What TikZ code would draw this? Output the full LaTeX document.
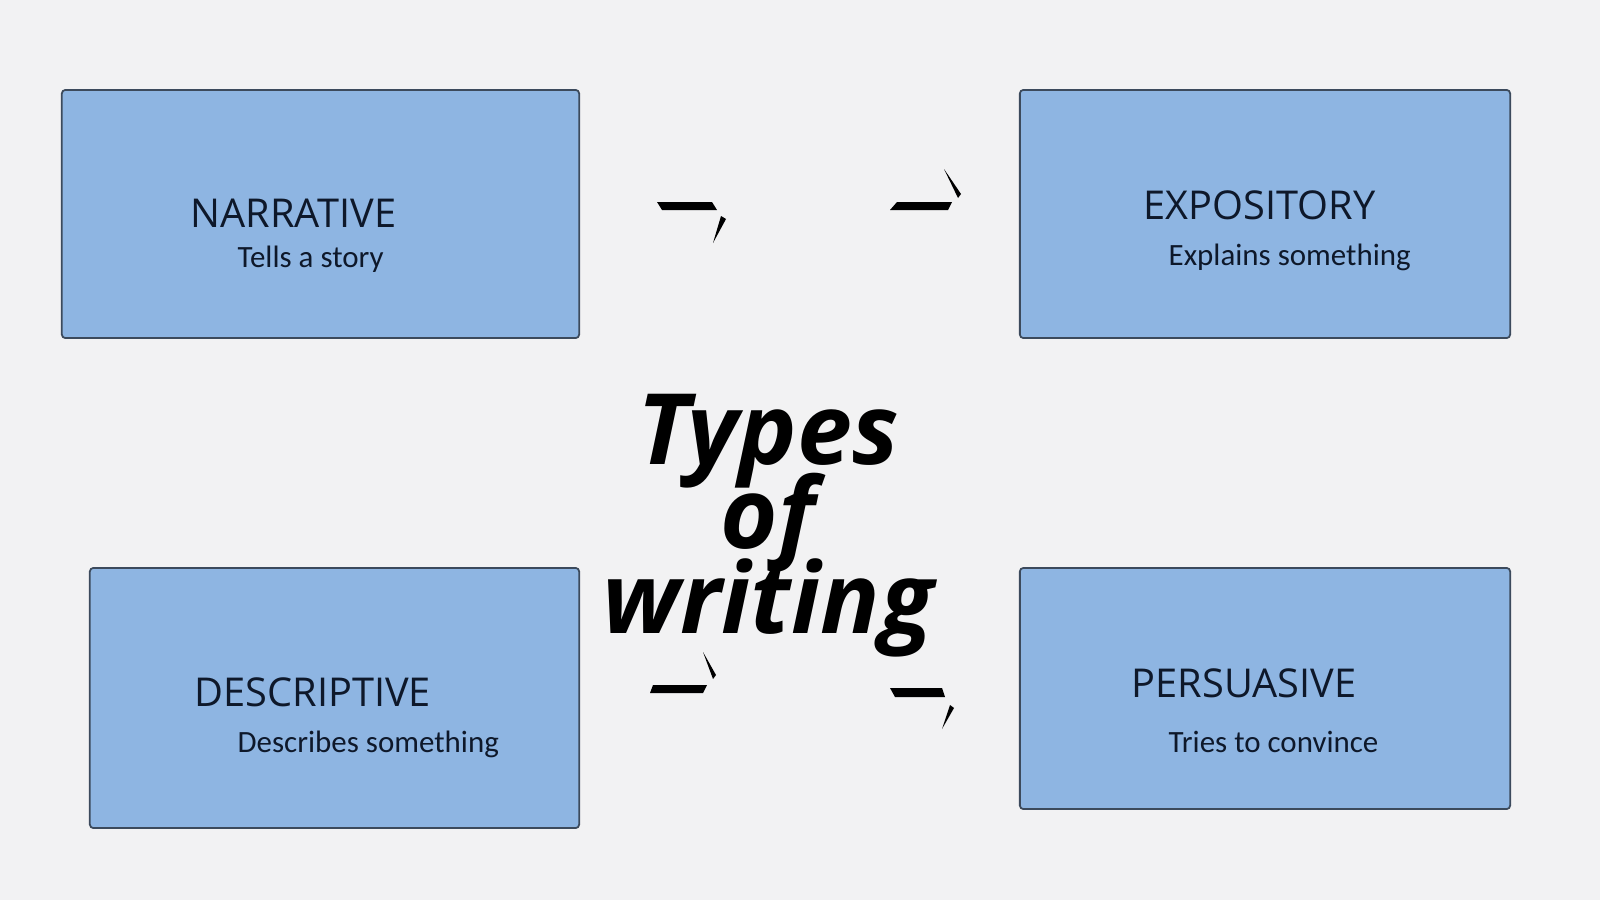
\documentclass[tikz,border=0pt]{standalone}
\usepackage{fontspec}
\usepackage{tikz}
\usetikzlibrary{positioning}
\newfontfamily\headfont{Open Sans}
\newfontfamily\subfont{Carlito}
\newcommand\titlefont{\headfont\bfseries\itshape\fontsize{28}{24}\selectfont\lineskiplimit=-40pt\relax}
\definecolor{boxblue}{RGB}{142,181,226}
\definecolor{boxline}{RGB}{60,74,92}
\definecolor{pagebg}{RGB}{242,242,243}
\definecolor{inkblue}{RGB}{14,24,42}

\begin{document}
\begin{tikzpicture}[
  x=0.01cm, y=-0.01cm,
  box/.style={draw=boxline, fill=boxblue, line width=0.5pt, rounded corners=1pt, rectangle, inner sep=0pt},
  head/.style={anchor=base west, inner sep=0pt, text=inkblue, font=\headfont\fontsize{11.3}{13}\selectfont},
  sub/.style={anchor=base west, inner sep=0pt, text=inkblue, font=\subfont\fontsize{8.8}{11}\selectfont},
  piece/.style={fill=black, draw=none}
]

% Page
\fill[pagebg] (0,0) rectangle (1600,900);
\useasboundingbox (0,0) rectangle (1600,900);

% Boxes
\node[box, minimum width=5.17cm, minimum height=2.48cm] (narrative) at (320.5,214) {};
\node[box, minimum width=4.90cm, minimum height=2.48cm] (expository) at (1265,214) {};
\node[box, minimum width=4.89cm, minimum height=2.60cm] (descriptive) at (334.5,698) {};
\node[box, minimum width=4.90cm, minimum height=2.41cm] (persuasive) at (1265,688.5) {};

% Labels
\node[head] (narrhead) at (190,227) {NARRATIVE};
\node[sub] (narrsub) at (237,267) {Tells a story};
\node[head] (expohead) at (1143,219) {EXPOSITORY};
\node[sub] (exposub) at (1168,265) {Explains something};
\node[head] (deschead) at (194,706) {DESCRIPTIVE};
\node[sub] (descsub) at (237,752) {Describes something};
\node[head] (pershead) at (1131,697) {PERSUASIVE};
\node[sub] (perssub) at (1168,752) {Tries to convince};

% Title (base = last line)
\node[anchor=base, align=center, inner sep=0pt, font=\titlefont] (title) at (768,633)
  {Types\\of\\writing};

% Arrow pieces
\fill[piece] (657,202) -- (712,202) -- (717,210) -- (662,210) -- cycle;
\fill[piece] (721,216) -- (726,219) -- (713,243) -- cycle;

\fill[piece] (897,202) -- (952,202) -- (948,210) -- (890,210) -- cycle;
\fill[piece] (944,169) -- (961,194) -- (958,198) -- cycle;

\fill[piece] (653,685) -- (707,685) -- (703,693) -- (650,693) -- cycle;
\fill[piece] (703,652) -- (716,675) -- (713,679) -- cycle;

\fill[piece] (890,688) -- (942,688) -- (945,697) -- (895,697) -- cycle;
\fill[piece] (950,705) -- (954,708) -- (942,729) -- cycle;

\end{tikzpicture}
\end{document}
